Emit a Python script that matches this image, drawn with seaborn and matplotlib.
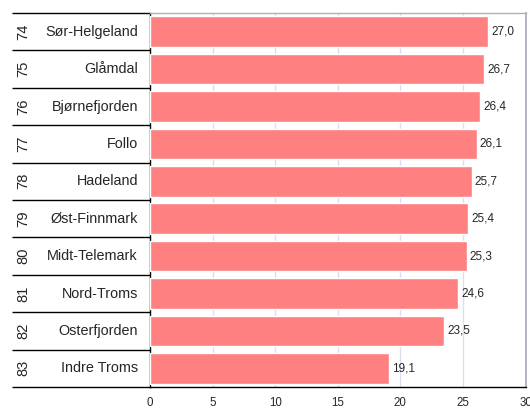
import numpy as np
import pandas as pd
import seaborn as sns
import matplotlib.pyplot as plt

# data
ranks = [74, 75, 76, 77, 78, 79, 80, 81, 82, 83]
regions = ['Sør-Helgeland', 'Glåmdal', 'Bjørnefjorden', 'Follo', 'Hadeland',
           'Øst-Finnmark', 'Midt-Telemark', 'Nord-Troms', 'Osterfjorden', 'Indre Troms']
values = [27.0, 26.7, 26.4, 26.1, 25.7, 25.4, 25.3, 24.6, 23.5, 19.1]
xticks = [0, 5, 10, 15, 20, 25, 30]

df = pd.DataFrame({'region': regions, 'value': values})

sns.set_style('white')
plt.rcParams['font.family'] = ['Liberation Sans', 'DejaVu Sans']

fig = plt.figure(figsize=(5.3, 4.08), dpi=100)
ax = fig.add_axes([150/530, 1-387/408, 375.5/530, 374/408])

sns.barplot(data=df, x='value', y='region', color='#FF8080', saturation=1,
            width=0.82, ax=ax, zorder=3)

ax.set_xlim(0, 30)
ax.set_ylim(9.5, -0.5)
ax.set_xticks(xticks)
ax.set_xticklabels([str(t) for t in xticks], fontsize=8.3)
ax.tick_params(axis='x', direction='out', length=3, width=1, color='black', pad=4.5)
ax.set_yticks([])
ax.set_xlabel('')
ax.set_ylabel('')

for t in xticks[1:-1]:
    ax.axvline(t, color='#DCDCF6', lw=1, zorder=1)

for sp in ['left', 'bottom']:
    ax.spines[sp].set_color('black')
    ax.spines[sp].set_linewidth(1)
ax.spines['right'].set_color('#A8A8B8')
ax.spines['top'].set_color('#B0B0B0')
ax.spines['right'].set_linewidth(1.2)
ax.spines['top'].set_linewidth(1)

# value labels
for i, v in enumerate(values):
    ax.text(v + 0.25, i, f'{v:.1f}'.replace('.', ','), va='center', ha='left',
            fontsize=8.5, zorder=4)

# left table: rank and region name
tx = -138/375.5
trans = ax.get_yaxis_transform()
for k in range(len(regions) + 1):
    ax.plot([tx, 0], [k - 0.5, k - 0.5], transform=trans, color='black',
            lw=1, clip_on=False, solid_capstyle='butt')
for i, (r, name) in enumerate(zip(ranks, regions)):
    ax.text(-127/375.5, i, str(r), transform=trans, rotation=90,
            va='center', ha='center', fontsize=10.6)
    ax.text(-12/375.5, i, name, transform=trans, va='center', ha='right',
            fontsize=10.4)

fig.savefig('out.png', dpi=100)
